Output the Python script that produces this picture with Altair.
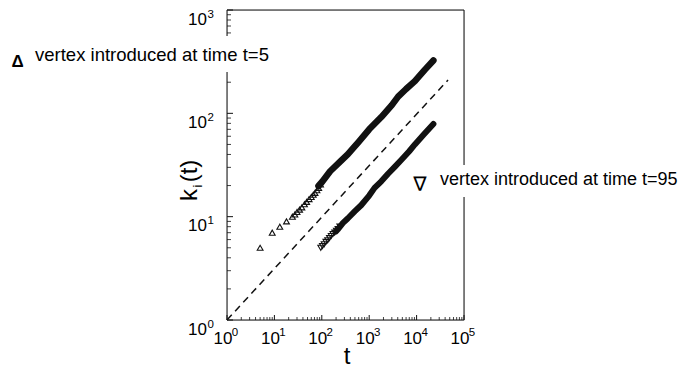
import altair as alt
import pandas as pd

# ---- data ----
dash_t = [1, 46000]
dash_k = [1, 210]

top_pts_t = [5, 9, 13, 18, 24, 27, 30, 34, 38, 43, 48, 54, 60, 66, 72, 79, 86, 94]
top_pts_k = [5, 7, 8, 9, 10, 10.5, 11.1, 11.7, 12.3, 13.2, 13.9, 14.8, 15.5, 16.3, 17, 18, 19, 20.5]

top_band_t = [85, 103, 150, 250, 352, 600, 1000, 1800, 3000, 4080, 6000, 9200, 15000, 22600]
top_band_k = [19.8, 21.9, 27.5, 34.5, 40, 53, 70, 92, 120, 145, 172, 205, 265, 325]

low_pts_t = [95, 103, 112, 122, 133, 145, 158, 172, 187, 203, 220, 240]
low_pts_k = [5, 5.2, 5.4, 5.7, 5.9, 6.2, 6.5, 6.8, 7.0, 7.3, 7.6, 8.0]

low_band_t = [200, 216, 280, 352, 500, 676, 1000, 1297, 1800, 2500, 3500, 4790, 7000, 9200, 14000, 22600]
low_band_k = [7.2, 7.5, 8.7, 9.6, 11.3, 12.9, 16, 19, 22, 26, 30.5, 35.5, 43, 50, 62, 79]

x_exps = ["0", "1", "2", "3", "4", "5"]
x_decades = [1, 10, 100, 1000, 10000, 100000]
y_exps = ["0", "1", "2", "3"]
y_decades = [1, 10, 100, 1000]

x_minor = [m * 10 ** e for e in range(0, 5) for m in range(2, 10)]
y_minor = [m * 10 ** e for e in range(0, 3) for m in range(2, 10)]

W, H = 237, 310
FONT = "Liberation Sans"
INK = "#111111"

xs = alt.Scale(type="log", domain=[1, 100000], nice=False)
ys = alt.Scale(type="log", domain=[1, 1000], nice=False)

one = pd.DataFrame({"a": [0]})


def X(f):
    return alt.X(f + ":Q", scale=xs, axis=None)


def Y(f):
    return alt.Y(f + ":Q", scale=ys, axis=None)


dash = alt.Chart(pd.DataFrame({"t": dash_t, "k": dash_k})).mark_line(
    color=INK, strokeWidth=1.5, strokeDash=[7, 5]
).encode(x=X("t"), y=Y("k"))

top_band = alt.Chart(pd.DataFrame({"t": top_band_t, "k": top_band_k})).mark_line(
    color=INK, strokeWidth=6.5, strokeCap="round", strokeJoin="round"
).encode(x=X("t"), y=Y("k"))

low_band = alt.Chart(pd.DataFrame({"t": low_band_t, "k": low_band_k})).mark_line(
    color=INK, strokeWidth=6, strokeCap="round", strokeJoin="round"
).encode(x=X("t"), y=Y("k"))

top_pts = alt.Chart(pd.DataFrame({"t": top_pts_t, "k": top_pts_k})).mark_point(
    shape="triangle-up", filled=False, size=34, color=INK, strokeWidth=1.1, opacity=1
).encode(x=X("t"), y=Y("k"))

low_pts = alt.Chart(pd.DataFrame({"t": low_pts_t, "k": low_pts_k})).mark_point(
    shape="triangle-down", filled=False, size=34, color=INK, strokeWidth=1.1, opacity=1
).encode(x=X("t"), y=Y("k"))

# frame
frame = [
    alt.Chart(one).mark_rule(color=INK, strokeWidth=1).encode(
        x=alt.value(0), y=alt.value(0), y2=alt.value(H)),
    alt.Chart(one).mark_rule(color=INK, strokeWidth=1).encode(
        x=alt.value(W), y=alt.value(0), y2=alt.value(H)),
    alt.Chart(one).mark_rule(color=INK, strokeWidth=1).encode(
        y=alt.value(0), x=alt.value(0), x2=alt.value(W)),
    alt.Chart(one).mark_rule(color=INK, strokeWidth=1).encode(
        y=alt.value(H), x=alt.value(0), x2=alt.value(W)),
]

# ticks (inward)
xmaj = alt.Chart(pd.DataFrame({"v": x_decades})).mark_rule(color=INK, strokeWidth=1).encode(
    x=X("v"), y=alt.value(H), y2=alt.value(H - 5))
xmin = alt.Chart(pd.DataFrame({"v": x_minor})).mark_rule(color=INK, strokeWidth=0.8).encode(
    x=X("v"), y=alt.value(H), y2=alt.value(H - 3))
ymaj = alt.Chart(pd.DataFrame({"v": y_decades})).mark_rule(color=INK, strokeWidth=1).encode(
    y=Y("v"), x=alt.value(0), x2=alt.value(6))
ymin = alt.Chart(pd.DataFrame({"v": y_minor})).mark_rule(color=INK, strokeWidth=0.8).encode(
    y=Y("v"), x=alt.value(0), x2=alt.value(4))

# tick labels
xlab = pd.DataFrame({"v": x_decades, "e": x_exps})
xl10 = alt.Chart(xlab).mark_text(font=FONT, fontSize=17, color="black", align="center",
                                 baseline="alphabetic", dx=-4).encode(
    x=X("v"), y=alt.value(H + 24), text=alt.value("10"))
xlexp = alt.Chart(xlab).mark_text(font=FONT, fontSize=11.5, color="black", align="center",
                                  baseline="alphabetic", dx=8).encode(
    x=X("v"), y=alt.value(H + 16), text="e:N")

ylab = pd.DataFrame({"v": y_decades, "e": y_exps})
yl10 = alt.Chart(ylab).mark_text(font=FONT, fontSize=17, color="black", align="right",
                                 baseline="middle", dy=9.5).encode(
    x=alt.value(-20), y=Y("v"), text=alt.value("10"))
ylexp = alt.Chart(ylab).mark_text(font=FONT, fontSize=11.5, color="black", align="left",
                                  baseline="middle", dy=4.5).encode(
    x=alt.value(-19.5), y=Y("v"), text="e:N")

# axis titles
ttl_t = alt.Chart(one).mark_text(text="t", font=FONT, fontSize=24, color="black",
                                 align="center", baseline="alphabetic").encode(
    x=alt.value(120), y=alt.value(354))
ttl_k = alt.Chart(one).mark_text(text="k", font=FONT, fontSize=24, color="black",
                                 align="center", baseline="alphabetic", angle=270).encode(
    x=alt.value(-30), y=alt.value(185))
ttl_i = alt.Chart(one).mark_text(text="i", font=FONT, fontSize=13, color="black",
                                 align="center", baseline="alphabetic", angle=270).encode(
    x=alt.value(-25), y=alt.value(176))
ttl_p = alt.Chart(one).mark_text(text="(t)", font=FONT, fontSize=24, color="black",
                                 align="center", baseline="alphabetic", angle=270).encode(
    x=alt.value(-30), y=alt.value(161))

# annotations with white boxes
box_l = alt.Chart(one).mark_rect(color="white").encode(
    x=alt.value(-219), x2=alt.value(60), y=alt.value(26), y2=alt.value(62))
box_r = alt.Chart(one).mark_rect(color="white").encode(
    x=alt.value(178), x2=alt.value(456), y=alt.value(155), y2=alt.value(187))
sym_l = alt.Chart(one).mark_text(text="Δ", font=FONT, fontSize=17, fontWeight="bold",
                                 color="black", align="center", baseline="alphabetic").encode(
    x=alt.value(-209.5), y=alt.value(57))
txt_l = alt.Chart(one).mark_text(text="vertex introduced at time t=5", font=FONT, fontSize=18.5,
                                 color="black", align="left", baseline="alphabetic").encode(
    x=alt.value(-192), y=alt.value(50.5))
sym_r = alt.Chart(one).mark_text(text="∇", font="DejaVu Sans", fontSize=20,
                                 color="black", align="center", baseline="alphabetic").encode(
    x=alt.value(193), y=alt.value(181))
txt_r = alt.Chart(one).mark_text(text="vertex introduced at time t=95", font=FONT, fontSize=18,
                                 color="black", align="left", baseline="alphabetic").encode(
    x=alt.value(213), y=alt.value(175))

chart = alt.layer(
    dash, top_band, low_band, top_pts, low_pts,
    xmin, xmaj, ymin, ymaj, *frame,
    box_l, box_r, sym_l, txt_l, sym_r, txt_r,
    xl10, xlexp, yl10, ylexp, ttl_t, ttl_k, ttl_i, ttl_p,
).properties(
    width=W, height=H,
    autosize=alt.AutoSizeParams(type="none"),
    padding={"left": 219, "top": 2, "right": 219, "bottom": 49},
).configure_view(strokeWidth=0).configure(background="white")

chart.save("out.html", embed_options={"renderer": "svg", "actions": False})
